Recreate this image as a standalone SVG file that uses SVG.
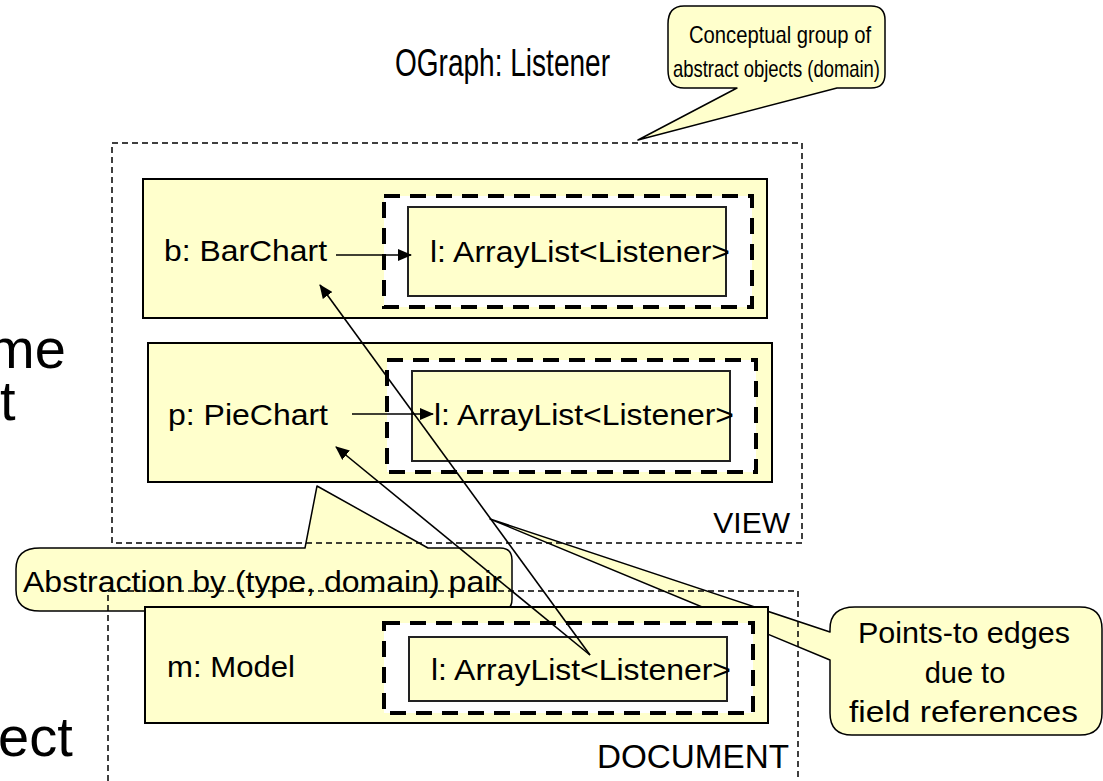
<svg xmlns="http://www.w3.org/2000/svg" width="1103" height="781" viewBox="0 0 1103 781">
  <defs>
    <marker id="arrow" markerWidth="14" markerHeight="12" refX="13" refY="6" orient="auto" markerUnits="userSpaceOnUse">
      <path d="M0,0 L14,6 L0,12 Z" fill="#000"/>
    </marker>
    <style>
      text { font-family: "Liberation Sans", Arial, sans-serif; fill: #000; }
      .callout { fill: #FFFFCC; stroke: #000; stroke-width: 1.5; stroke-linejoin: round; }
      .domain { fill: none; stroke: #000; stroke-width: 1.5; stroke-dasharray: 6 4; }
      .obj { fill: #FFFFCC; stroke: #000; stroke-width: 2; }
      .own { fill: #FFFFFF; stroke: #000; stroke-width: 4; stroke-dasharray: 16 10; }
      .inner { fill: #FFFFCC; stroke: #222; stroke-width: 2; }
      .lbl { font-size: 30px; }
      .edge { fill: none; stroke: #000; stroke-width: 1.6; marker-end: url(#arrow); }
    </style>
  </defs>

  <rect width="1103" height="781" fill="#FFFFFF"/>

  <!-- slide text cut at the left margin -->
  <g id="side-text" font-size="56">
    <text x="-12" y="368">me</text>
    <text x="0" y="420">t</text>
    <text x="-2" y="756">ect</text>
  </g>

  <text id="title" x="395" y="76" font-size="38" textLength="215" lengthAdjust="spacingAndGlyphs">OGraph: Listener</text>

  <!-- callouts -->
  <g id="note-domain">
    <path class="callout" d="M684,6 H871 Q885,6 885,20 V74 Q885,88 871,88 H837 L638,140 L737,88 H684 Q668,88 668,70 V24 Q668,6 684,6 Z"/>
    <text x="689" y="43" font-size="24" textLength="182" lengthAdjust="spacingAndGlyphs">Conceptual group of</text>
    <text x="673" y="77" font-size="24" textLength="207" lengthAdjust="spacingAndGlyphs">abstract objects (domain)</text>
  </g>

  <g id="note-abstraction">
    <path class="callout" d="M40,548 H305 L317,486 L428,548 H500 Q512,548 512,560 V599 Q512,611 500,611 H40 Q16,611 16,590 V569 Q16,548 40,548 Z"/>
    <text x="23" y="592" font-size="29" textLength="479" lengthAdjust="spacingAndGlyphs">Abstraction by (type, domain) pair</text>
  </g>

  <g id="note-edges">
    <path class="callout" d="M855,607 H1080 Q1102,607 1102,629 V713 Q1102,735 1080,735 H852 Q830,735 830,713 V660 L490,519 L830,632 V629 Q830,607 855,607 Z"/>
    <text x="858" y="643" font-size="29" textLength="212" lengthAdjust="spacingAndGlyphs">Points-to edges</text>
    <text x="965" y="683" font-size="29" text-anchor="middle">due to</text>
    <text x="849" y="722" font-size="29" textLength="229" lengthAdjust="spacingAndGlyphs">field references</text>
  </g>

  <!-- domains -->
  <g id="domain-view">
    <rect class="domain" x="112" y="143" width="690" height="400"/>
    <text x="790" y="533" font-size="30" text-anchor="end">VIEW</text>
  </g>
  <g id="domain-document">
    <rect class="domain" x="108" y="591" width="690" height="220"/>
    <text x="597" y="768" font-size="34" textLength="192" lengthAdjust="spacingAndGlyphs">DOCUMENT</text>
  </g>

  <!-- objects -->
  <g id="obj-barchart">
    <rect class="obj" x="143" y="179" width="624" height="139"/>
    <text class="lbl" x="164" y="261" textLength="163" lengthAdjust="spacingAndGlyphs">b: BarChart</text>
    <rect class="own" x="384" y="196" width="368" height="111"/>
    <rect class="inner" x="408" y="207" width="318" height="89"/>
    <text class="lbl" x="430" y="262" textLength="300" lengthAdjust="spacingAndGlyphs">l: ArrayList&lt;Listener&gt;</text>
  </g>

  <g id="obj-piechart">
    <rect class="obj" x="148" y="343" width="624" height="139"/>
    <text class="lbl" x="168" y="425" textLength="160" lengthAdjust="spacingAndGlyphs">p: PieChart</text>
    <rect class="own" x="387" y="360" width="369" height="112"/>
    <rect class="inner" x="412" y="371" width="318" height="90"/>
    <text class="lbl" x="434" y="425" textLength="300" lengthAdjust="spacingAndGlyphs">l: ArrayList&lt;Listener&gt;</text>
  </g>

  <g id="obj-model">
    <rect class="obj" x="145" y="607" width="623" height="116"/>
    <text class="lbl" x="167" y="677" textLength="128" lengthAdjust="spacingAndGlyphs">m: Model</text>
    <rect class="own" x="384" y="623" width="369" height="90"/>
    <rect class="inner" x="409" y="637" width="318" height="64"/>
    <text class="lbl" x="431" y="680" textLength="300" lengthAdjust="spacingAndGlyphs">l: ArrayList&lt;Listener&gt;</text>
  </g>

  <!-- points-to edges -->
  <g id="edges">
    <line class="edge" x1="336" y1="255" x2="411" y2="255"/>
    <line class="edge" x1="352" y1="414" x2="433" y2="414"/>
    <line class="edge" x1="590" y1="655" x2="320" y2="285"/>
    <line class="edge" x1="590" y1="655" x2="336" y2="447"/>
  </g>
</svg>
